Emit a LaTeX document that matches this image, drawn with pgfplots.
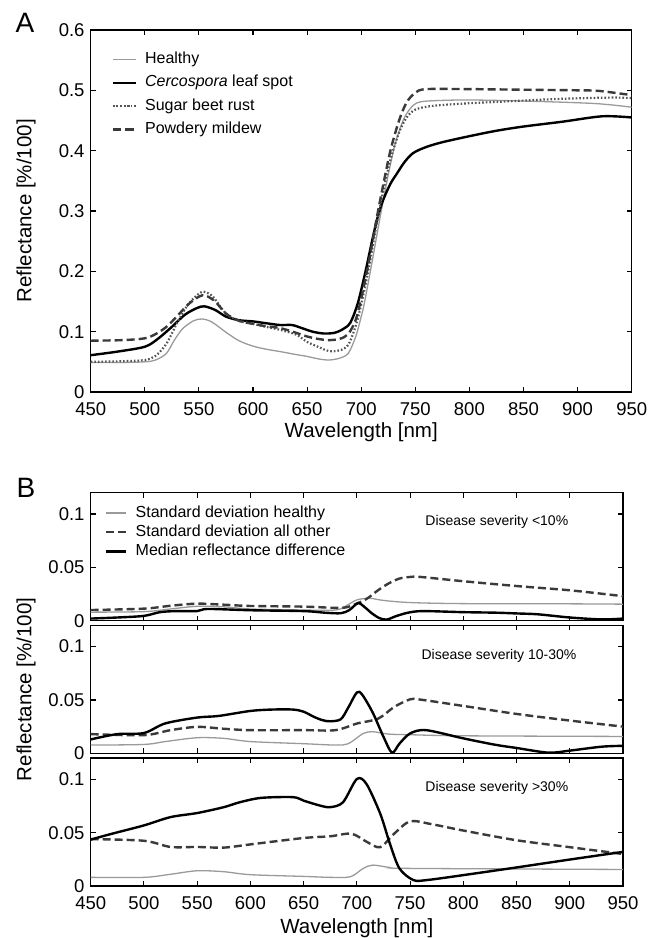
\documentclass[border=0pt]{standalone}
\usepackage{fontspec}
\setmainfont{Liberation Sans}
\usepackage{pgfplots}
\pgfplotsset{compat=1.18}
\definecolor{hgray}{HTML}{9A9A9A}
\definecolor{dgray}{HTML}{555555}
\definecolor{ddgray}{HTML}{3A3A3A}
\pgfplotsset{
  base/.style={
    scale only axis,
    xmin=450, xmax=950,
    xtick={450,500,...,950},
    tick align=inside,
    major tick length=5pt,
    every tick/.style={black, line width=1.1pt},
    axis line style={line width=1.4pt},
    tick label style={font=\fontsize{18.5}{21}\selectfont, inner sep=1pt},
    xticklabel style={yshift=-9.5pt},
    yticklabel style={xshift=-5pt},
    /pgf/number format/assume math mode=true,
    label style={font=\fontsize{20.5}{24}\selectfont},
  },
  healthy/.style={hgray, line width=1.3pt, smooth, tension=0.5},
  cerco/.style={black, line width=2.4pt, smooth, tension=0.5},
  rust/.style={dgray, line width=2.2pt, dash pattern=on 1.6pt off 2pt, smooth, tension=0.5},
  mildew/.style={ddgray, line width=2.4pt, dash pattern=on 8pt off 4pt, smooth, tension=0.5},
  sdh/.style={hgray, line width=1.3pt, smooth, tension=0.5},
  sdo/.style={ddgray, line width=2.4pt, dash pattern=on 8pt off 4pt, smooth, tension=0.5},
  med/.style={black, line width=2.4pt, smooth, tension=0.5},
  bsub/.style={base, width=532.3pt, height=128pt, ymin=0, ymax=0.12,
    ytick={0,0.05,0.1},
    yticklabel style={/pgf/number format/fixed, /pgf/number format/precision=2}},
}
\begin{document}
\begin{tikzpicture}
\useasboundingbox (0,0) rectangle (659pt,938pt);
\node[font=\fontsize{28}{32}\selectfont] at (25pt,915pt) {A};
\node[font=\fontsize{28}{32}\selectfont] at (26pt,450pt) {B};

% ---------------- Panel A ----------------
\begin{axis}[base,
  at={(90.7pt,546pt)}, anchor=south west,
  width=541pt, height=362pt,
  ymin=0, ymax=0.6, ytick={0,0.1,...,0.6},
  yticklabel style={/pgf/number format/fixed, /pgf/number format/precision=1},
  xlabel={Wavelength [nm]}, ylabel={Reflectance [\%/100]},
  xlabel style={at={(axis description cs:0.5,-0.11)}, anchor=center},
  ylabel style={at={(axis description cs:-0.1196,0.5)}, anchor=center, rotate=0},
  legend cell align=left,
  legend style={at={(rel axis cs:0.0388,0.938)}, anchor=north west, draw=none, fill=none,
    inner sep=0pt, outer sep=0pt, row sep=9.3pt,
    font=\fontsize{16}{19}\selectfont,
    nodes={inner sep=0pt, text height=11pt, text depth=3pt},
    /tikz/every odd column/.append style={column sep=7.7pt}},
  legend image code/.code={\draw[#1] plot coordinates {(0pt,0pt) (23.3pt,0pt)};},
]
\addplot[healthy] coordinates {
(450,0.049)(480,0.049)(500,0.050)(510,0.053)(520,0.064)(527,0.085)(535,0.105)(545,0.118)(553,0.121)(562,0.116)(575,0.099)(587,0.085)(600,0.076)(612,0.071)(625,0.067)(640,0.062)(650,0.059)(660,0.055)(670,0.053)(680,0.056)(688,0.064)(695,0.092)(700,0.125)(703,0.148)(710,0.215)(717,0.285)(725,0.36)(732,0.415)(740,0.455)(748,0.475)(755,0.481)(770,0.483)(800,0.484)(856,0.482)(917,0.478)(950,0.472)};
\addlegendentry{Healthy}
\addplot[cerco] coordinates {
(450,0.061)(475,0.067)(500,0.075)(512,0.088)(525,0.108)(537,0.128)(548,0.139)(555,0.142)(565,0.136)(575,0.125)(587,0.119)(600,0.117)(612,0.114)(625,0.111)(636,0.111)(645,0.106)(655,0.100)(665,0.097)(675,0.098)(683,0.104)(690,0.115)(697,0.148)(704,0.200)(710,0.250)(715,0.288)(720,0.317)(727,0.345)(733,0.362)(740,0.381)(748,0.396)(760,0.406)(775,0.414)(800,0.424)(825,0.433)(850,0.440)(886,0.448)(923,0.457)(950,0.455)};
\addlegendentry{\textit{Cercospora} leaf spot}
\addplot[rust] coordinates {
(450,0.050)(480,0.051)(500,0.053)(510,0.060)(520,0.080)(530,0.115)(540,0.145)(550,0.163)(555,0.166)(563,0.158)(575,0.130)(587,0.118)(600,0.113)(612,0.108)(625,0.103)(640,0.095)(650,0.083)(660,0.075)(670,0.068)(680,0.069)(688,0.078)(695,0.11)(700,0.145)(707,0.205)(714,0.275)(720,0.33)(727,0.385)(735,0.43)(742,0.455)(750,0.468)(765,0.474)(794,0.478)(850,0.483)(886,0.486)(932,0.488)(950,0.487)};
\addlegendentry{Sugar beet rust}
\addplot[mildew] coordinates {
(450,0.085)(480,0.086)(500,0.089)(510,0.096)(520,0.108)(530,0.126)(540,0.145)(550,0.158)(556,0.160)(565,0.150)(575,0.130)(587,0.118)(600,0.113)(612,0.109)(625,0.106)(640,0.098)(650,0.092)(660,0.088)(670,0.086)(680,0.088)(688,0.096)(695,0.12)(700,0.155)(707,0.215)(714,0.285)(720,0.34)(727,0.40)(735,0.45)(742,0.48)(750,0.496)(760,0.502)(800,0.502)(850,0.501)(900,0.500)(920,0.499)(950,0.492)};
\addlegendentry{Powdery mildew}
\end{axis}

% ---------------- Panel B, subplot 1 ----------------
\begin{axis}[bsub,
  at={(90.7pt,317.3pt)}, anchor=south west,
  xticklabels={},
  legend cell align=left,
  legend style={at={(rel axis cs:0.0269,0.896)}, anchor=north west, draw=none, fill=none,
    inner sep=0pt, outer sep=0pt, row sep=5.2pt,
    font=\fontsize{16}{19}\selectfont,
    nodes={inner sep=0pt, text height=11pt, text depth=3pt},
    /tikz/every odd column/.append style={column sep=8.3pt}},
  legend image code/.code={\draw[#1] plot coordinates {(0pt,0pt) (20pt,0pt)};},
]
\addplot[sdh] coordinates {
(450,0.008)(500,0.0085)(525,0.011)(550,0.0135)(575,0.013)(600,0.011)(650,0.010)(680,0.010)(690,0.014)(700,0.0195)(712,0.021)(725,0.019)(750,0.017)(800,0.016)(900,0.0158)(950,0.0155)};
\addlegendentry{Standard deviation healthy}
\addplot[sdo] coordinates {
(450,0.010)(500,0.0113)(525,0.014)(550,0.016)(575,0.015)(600,0.0138)(650,0.0132)(680,0.012)(690,0.0125)(700,0.016)(710,0.021)(720,0.0286)(730,0.035)(740,0.0395)(750,0.041)(760,0.041)(800,0.037)(850,0.0325)(900,0.0285)(950,0.023)};
\addlegendentry{Standard deviation all other}
\addplot[med] coordinates {
(450,0.002)(475,0.003)(500,0.0045)(515,0.008)(530,0.009)(550,0.009)(560,0.011)(600,0.0098)(650,0.009)(670,0.0075)(685,0.007)(693,0.010)(701,0.0165)(707,0.013)(714,0.007)(721,0.0025)(728,0.001)(736,0.004)(748,0.0075)(762,0.009)(800,0.008)(831,0.0075)(850,0.0068)(870,0.006)(900,0.003)(930,0.0012)(950,0.002)};
\addlegendentry{Median reflectance difference}
\node[font=\fontsize{14}{17}\selectfont] at (rel axis cs:0.763,0.775) {Disease severity <10\%};
\end{axis}

% ---------------- Panel B, subplot 2 ----------------
\begin{axis}[bsub,
  at={(90.7pt,184.7pt)}, anchor=south west,
  xticklabels={},
  ylabel={Reflectance [\%/100]},
  ylabel style={at={(axis description cs:-0.1215,0.5)}, anchor=center, rotate=0},
]
\addplot[sdh] coordinates {
(450,0.0077)(500,0.0083)(520,0.011)(550,0.0146)(575,0.014)(600,0.011)(650,0.009)(680,0.0077)(692,0.009)(706,0.0186)(715,0.0202)(730,0.018)(750,0.0174)(800,0.0164)(950,0.0158)};
\addplot[sdo] coordinates {
(450,0.018)(500,0.017)(525,0.0217)(550,0.0248)(575,0.023)(600,0.0217)(650,0.0217)(680,0.0217)(700,0.0279)(720,0.0325)(735,0.0434)(750,0.0506)(760,0.0503)(800,0.0444)(850,0.0369)(900,0.0307)(950,0.025)};
\addplot[med] coordinates {
(450,0.013)(475,0.018)(500,0.019)(520,0.028)(550,0.0335)(570,0.035)(600,0.0397)(620,0.041)(640,0.041)(650,0.039)(660,0.034)(668,0.031)(675,0.030)(685,0.032)(692,0.043)(700,0.057)(705,0.055)(715,0.038)(725,0.0155)(733,0.0006)(740,0.009)(750,0.0186)(765,0.0217)(800,0.014)(830,0.008)(850,0.005)(880,0.0006)(900,0.0025)(930,0.0062)(950,0.007)};
\node[font=\fontsize{14}{17}\selectfont] at (rel axis cs:0.767,0.763) {Disease severity 10-30\%};
\end{axis}

% ---------------- Panel B, subplot 3 ----------------
\begin{axis}[bsub,
  at={(90.7pt,52pt)}, anchor=south west,
  xlabel={Wavelength [nm]},
  xlabel style={at={(axis description cs:0.5,-0.33)}, anchor=center},
]
\addplot[sdh] coordinates {
(450,0.0081)(500,0.0081)(525,0.011)(550,0.0143)(575,0.0134)(600,0.0106)(650,0.009)(675,0.0081)(694,0.0087)(706,0.0165)(715,0.0196)(731,0.0174)(750,0.0165)(950,0.0155)};
\addplot[sdo] coordinates {
(450,0.044)(500,0.0424)(525,0.0366)(550,0.0366)(575,0.036)(600,0.039)(650,0.045)(675,0.0466)(695,0.049)(710,0.041)(722,0.0364)(735,0.049)(750,0.0606)(770,0.058)(800,0.052)(850,0.0429)(900,0.0364)(950,0.030)};
\addplot[med] coordinates {
(450,0.0435)(470,0.049)(500,0.0568)(525,0.0646)(550,0.0684)(575,0.0739)(590,0.0785)(610,0.0826)(640,0.0833)(650,0.080)(665,0.0755)(675,0.0739)(687,0.0785)(700,0.1003)(709,0.0957)(722,0.0677)(731,0.0398)(740,0.0165)(753,0.0056)(766,0.0056)(800,0.0102)(850,0.0174)(900,0.0248)(950,0.032)};
\node[font=\fontsize{14}{17}\selectfont] at (rel axis cs:0.763,0.766) {Disease severity >30\%};
\end{axis}
\end{tikzpicture}
\end{document}
